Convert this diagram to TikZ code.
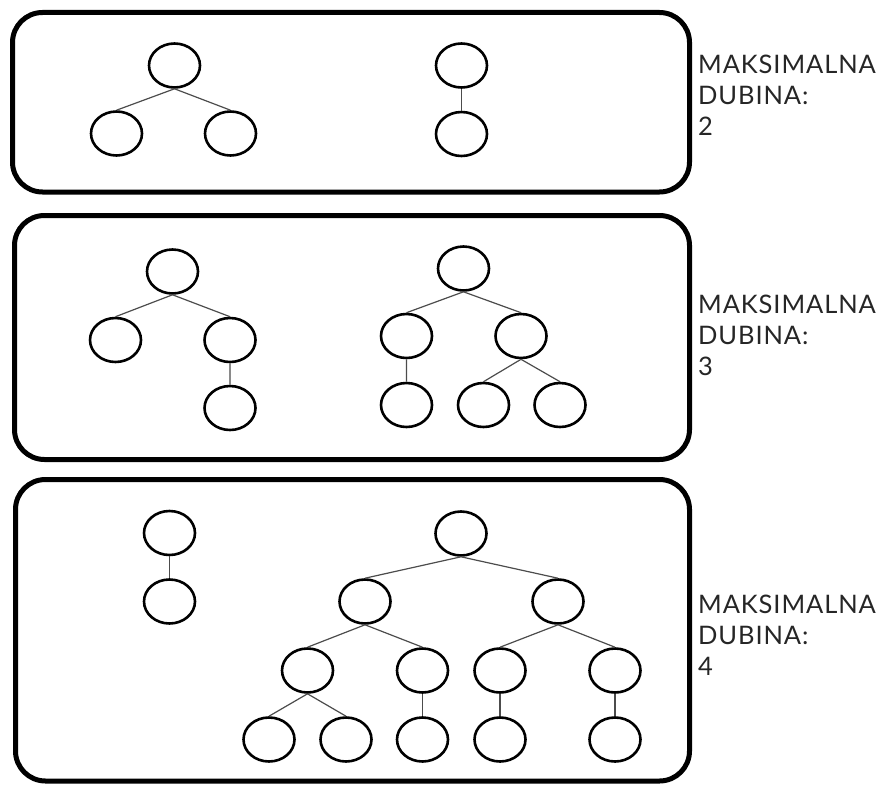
\documentclass[tikz,border=0pt]{standalone}
\usepackage{fontspec}
\setmainfont{Lato}[LetterSpace=3.5]
\usetikzlibrary{shapes.geometric}

\tikzset{
  cvor/.style={draw,ellipse,line width=2.6pt,minimum width=51pt,minimum height=44pt,inner sep=0pt},
  grana/.style={line width=1.2pt,black!70},
  okvir/.style={line width=5pt,rounded corners=30pt},
  natpis/.style={anchor=west,align=left,inner sep=0pt,font=\fontsize{25.5}{31}\selectfont,text=black!85}
}

\begin{document}
\begin{tikzpicture}[x=1pt,y=-1pt]
\useasboundingbox (0,0) rectangle (883,784);
\draw[okvir] (12.5,12.5) rectangle (689.5,192);
\draw[okvir] (14.5,215.5) rectangle (689.5,459.5);
\draw[okvir] (15.5,479.5) rectangle (689.5,781);

% dubina 2
\node[cvor] (a) at (174.5,65.5) {};
\node[cvor] (a1) at (116.5,133.5) {};
\node[cvor] (a2) at (230.5,133.5) {};
\draw[grana] (a.south)--(a1.north) (a.south)--(a2.north);
\node[cvor] (b) at (461.5,65.5) {};
\node[cvor] (b1) at (461.5,134) {};
\draw[grana] (b)--(b1);
\node[natpis] (t2) at (698,95) {MAKSIMALNA\\DUBINA:\\2};

% dubina 3
\node[cvor] (c) at (172.5,271.5) {};
\node[cvor] (c1) at (115.5,340) {};
\node[cvor] (c2) at (230,340) {};
\node[cvor] (c21) at (230,408) {};
\draw[grana] (c.south)--(c1.north) (c.south)--(c2.north) (c2)--(c21);
\node[cvor] (d) at (463.5,268.5) {};
\node[cvor] (d1) at (406.5,336) {};
\node[cvor] (d2) at (521,336) {};
\node[cvor] (d11) at (406.5,405) {};
\node[cvor] (d21) at (483.5,405) {};
\node[cvor] (d22) at (560,405) {};
\draw[grana] (d.south)--(d1.north) (d.south)--(d2.north) (d1)--(d11);
\draw[grana] (d2.south)--(d21.north) (d2.south)--(d22.north);
\node[natpis] (t3) at (698,335) {MAKSIMALNA\\DUBINA:\\3};

% dubina 4
\node[cvor] (e) at (169.5,533) {};
\node[cvor] (e1) at (169.5,601.5) {};
\draw[grana] (e)--(e1);
\node[cvor] (f) at (461,533.5) {};
\node[cvor] (f1) at (365,601.5) {};
\node[cvor] (f2) at (558,601.5) {};
\node[cvor] (f11) at (307.5,670.5) {};
\node[cvor] (f12) at (422.5,670.5) {};
\node[cvor] (f21) at (500,670.5) {};
\node[cvor] (f22) at (615,670.5) {};
\node[cvor] (f111) at (269,739.5) {};
\node[cvor] (f112) at (346,739.5) {};
\node[cvor] (f121) at (422.5,739.5) {};
\node[cvor] (f211) at (500,739.5) {};
\node[cvor] (f221) at (615,739.5) {};
\draw[grana] (f.south)--(f1.north) (f.south)--(f2.north);
\draw[grana] (f1.south)--(f11.north) (f1.south)--(f12.north);
\draw[grana] (f2.south)--(f21.north) (f2.south)--(f22.north);
\draw[grana] (f11.south)--(f111.north) (f11.south)--(f112.north);
\draw[grana] (f12)--(f121) (f21)--(f211) (f22)--(f221);
\node[natpis] (t4) at (698,635) {MAKSIMALNA\\DUBINA:\\4};
\end{tikzpicture}
\end{document}
